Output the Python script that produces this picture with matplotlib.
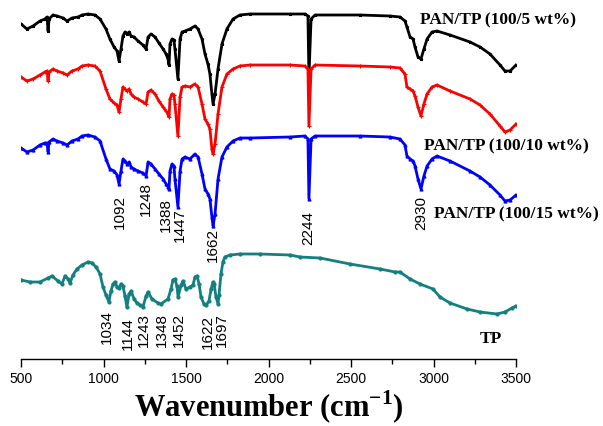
import numpy as np
import matplotlib
matplotlib.use("Agg")
import matplotlib.pyplot as plt
from matplotlib.ticker import MultipleLocator

plt.rcParams['mathtext.fontset'] = 'custom'
plt.rcParams['mathtext.rm'] = 'Liberation Serif:bold'
plt.rcParams['mathtext.bf'] = 'Liberation Serif:bold'

# ---- data (wavenumber cm-1, transmittance a.u. with vertical offsets) ----
wn_pan = [500, 536, 573, 615, 645, 658, 664, 670, 694, 718, 755, 779, 809, 845, 870, 906, 948, 979,
          1015, 1039, 1064, 1082, 1094, 1106, 1118, 1130, 1142, 1155, 1167, 1185, 1209, 1239, 1258,
          1270, 1288, 1312, 1336, 1361, 1379, 1391, 1397, 1403, 1415, 1427, 1433, 1451, 1464, 1476,
          1494, 1524, 1554, 1573, 1597, 1615, 1633, 1645, 1657, 1664, 1676, 1694, 1718, 1748, 1785,
          1827, 1888, 2130, 2221, 2239, 2245, 2258, 2282, 2555, 2736, 2797, 2827, 2839, 2858, 2876,
          2888, 2906, 2924, 2942, 2961, 2991, 3021, 3100, 3221, 3282, 3342, 3403, 3433, 3464, 3500]

t_5 = [335, 330, 333, 338, 340, 342, 328, 340, 344, 343, 341, 338, 341, 342, 344, 345, 344, 340,
       330, 320, 312, 308, 298, 310, 323, 327, 325, 327, 323, 322, 318, 314, 310, 322, 325, 322,
       316, 310, 305, 300, 294, 315, 320, 319, 310, 280, 320, 327, 328, 330, 333, 330, 320, 305,
       295, 285, 265, 255, 265, 290, 315, 330, 340, 344, 345, 345, 345, 343, 282, 340, 344, 344,
       343, 342, 338, 332, 322, 320, 312, 302, 300, 310, 320, 327, 328, 324, 317, 312, 305, 294,
       288, 288, 294]

t_10 = [282, 278, 280, 284, 287, 288, 278, 287, 290, 288, 286, 284, 288, 290, 293, 294, 293, 288,
        270, 260, 256, 254, 247, 260, 272, 270, 268, 270, 265, 262, 260, 257, 255, 267, 269, 265,
        258, 252, 248, 245, 242, 260, 265, 264, 255, 223, 262, 272, 273, 272, 275, 272, 255, 240,
        235, 230, 210, 205, 215, 245, 272, 285, 290, 293, 294, 294, 293, 290, 233, 290, 294, 293,
        292, 291, 285, 272, 270, 268, 263, 252, 243, 255, 265, 272, 274, 268, 260, 254, 245, 233,
        227, 229, 235]

t_15 = [211, 207, 209, 214, 216, 216, 207, 217, 220, 218, 216, 214, 218, 220, 223, 224, 222, 218,
        200, 190, 188, 184, 175, 188, 200, 198, 195, 197, 192, 190, 188, 186, 183, 197, 195, 190,
        185, 180, 175, 172, 170, 188, 195, 193, 180, 152, 188, 200, 202, 200, 205, 202, 185, 170,
        165, 160, 142, 133, 145, 180, 202, 212, 218, 221, 221, 222, 223, 220, 160, 220, 223, 223,
        222, 220, 214, 203, 200, 198, 193, 180, 170, 183, 193, 200, 203, 198, 188, 182, 174, 164,
        158, 159, 164]

wn_tp = [500, 555, 615, 664, 688, 724, 748, 767, 785, 797, 815, 839, 870, 906, 930, 955, 979, 997,
         1015, 1033, 1045, 1058, 1070, 1082, 1094, 1106, 1118, 1130, 1142, 1155, 1167, 1185, 1203,
         1221, 1239, 1258, 1270, 1294, 1330, 1348, 1391, 1409, 1421, 1433, 1445, 1452, 1470, 1482,
         1500, 1524, 1542, 1555, 1567, 1579, 1591, 1609, 1622, 1639, 1652, 1664, 1670, 1682, 1694,
         1700, 1712, 1724, 1736, 1767, 1827, 1948, 2130, 2191, 2312, 2494, 2676, 2767, 2797, 2858,
         2918, 2997, 3039, 3100, 3203, 3282, 3385, 3433, 3476, 3500]
t_tp = [79, 77, 77, 81, 83, 78, 75, 83, 80, 76, 84, 90, 94, 97, 96, 92, 85, 72, 64, 57,
        68, 75, 77, 72, 71, 75, 73, 63, 52, 65, 68, 60, 56, 54, 52, 63, 67, 60, 56, 55,
        60, 70, 79, 80, 73, 62, 74, 78, 70, 72, 74, 82, 83, 75, 62, 55, 54, 58, 70, 77,
        75, 62, 55, 64, 85, 97, 102, 104, 105, 105, 104, 102, 101, 95, 90, 87, 87, 80, 75, 70,
        62, 56, 50, 47, 45, 47, 51, 53]

series_names = ['PAN/TP (100/5 wt%)', 'PAN/TP (100/10 wt%)', 'PAN/TP (100/15 wt%)', 'TP']
series_colors = ['#000000', '#ff0000', '#0000ff', '#128080']

pan_peaks = ['1092', '1248', '1388', '1447', '1662', '2244', '2930']
tp_peaks = ['1034', '1144', '1243', '1348', '1452', '1622', '1697']

# ---- figure ----
fig = plt.figure(figsize=(6.03, 4.27), dpi=100)
ax = fig.add_axes([21/603, 67/427, 495/603, 355/427])

for wn, t, c, mk in [(wn_pan, t_5, series_colors[0], '*'), (wn_pan, t_10, series_colors[1], '+'),
                     (wn_pan, t_15, series_colors[2], '^'), (wn_tp, t_tp, series_colors[3], 'o')]:
    ax.plot(wn, t, color=c, lw=2.0, marker=mk, ms=2.2, mew=0.8)

ax.set_xlim(500, 3500)
ax.set_ylim(0, 355)
for s in ['left', 'right', 'top']:
    ax.spines[s].set_visible(False)
ax.spines['bottom'].set_linewidth(1.0)
ax.set_yticks([])
ax.xaxis.set_major_locator(MultipleLocator(500))
ax.xaxis.set_minor_locator(MultipleLocator(250))
ax.tick_params(axis='x', which='major', direction='out', length=6, width=1,
               labelsize=10, pad=3)
ax.tick_params(axis='x', which='minor', direction='out', length=3.5, width=1)
for lab in ax.get_xticklabels():
    lab.set_family('Liberation Sans')

ax.set_xlabel(r'Wavenumber (cm$^{-1}$)', fontsize=22, family='Liberation Serif',
              fontweight='bold', labelpad=2)

# peak annotations: x position of label, top of text
pan_label_x = [1100, 1258, 1379, 1464, 1664, 2239, 2924]
pan_label_top = [165, 178, 162, 152, 132, 149, 164]
for lab, x, ytop in zip(pan_peaks, pan_label_x, pan_label_top):
    ax.text(x, ytop, lab, rotation=90, ha='center', va='top', fontsize=11,
            family='Liberation Sans')
tp_label_x = [1021, 1148, 1245, 1355, 1458, 1633, 1715]
tp_label_top = [50, 43, 47, 47, 47, 45, 47]
for lab, x, ytop in zip(tp_peaks, tp_label_x, tp_label_top):
    ax.text(x, ytop, lab, rotation=90, ha='center', va='top', fontsize=11,
            family='Liberation Sans')

name_pos = [(2918, 340), (2942, 214), (3003, 146), (3282, 21)]
for name, (x, y) in zip(series_names, name_pos):
    ax.text(x, y, name, ha='left', va='center', fontsize=12.5, fontweight='bold',
            family='Liberation Serif')

fig.savefig('out.png', dpi=100)
